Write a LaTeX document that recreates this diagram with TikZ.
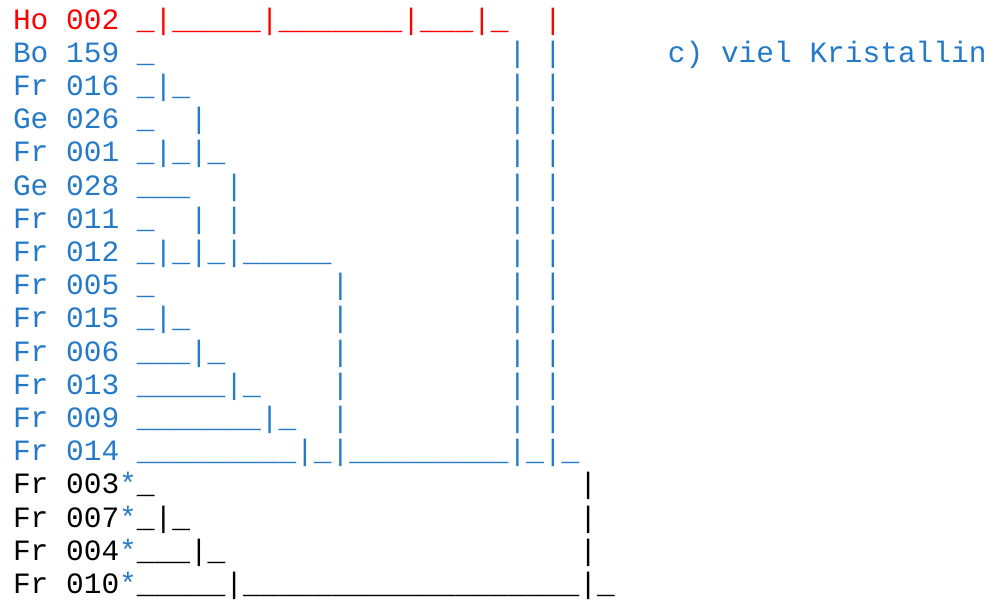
\documentclass[tikz,border=0pt]{standalone}
\usepackage{fontspec}
\setmonofont{Liberation Mono}
\usepackage{tikz}
\definecolor{kblau}{RGB}{36,122,200}
\definecolor{krot}{RGB}{255,0,0}
\newcommand{\us}[1]{\foreach \i in {1,...,#1}{\_}}
\newcommand{\ls}[1]{\hskip#1\dimexpr0.6em\relax}
\tikzset{zeile/.style={anchor=base west,inner sep=0pt,font=\ttfamily\fontsize{14.75}{17}\selectfont}}

\begin{document}
\begin{tikzpicture}[x=0.5pt,y=-0.5pt]
\useasboundingbox (0,0) rectangle (990,602);
\node[zeile,krot] (ho002) at (12.6,29) {Ho 002~\_|\us{5}|\us{7}|\us{3}|\_\ls{2}|};
\foreach \r/\n/\lab/\art in {
  1/bo159/Bo 159/\_\ls{20}|~|,
  2/fr016/Fr 016/\_|\_\ls{18}|~|,
  3/ge026/Ge 026/\_\ls{2}|\ls{17}|~|,
  4/fr001/Fr 001/\_|\_|\_\ls{16}|~|,
  5/ge028/Ge 028/\us{3}\ls{2}|\ls{15}|~|,
  6/fr011/Fr 011/\_\ls{2}|~|\ls{15}|~|,
  7/fr012/Fr 012/\_|\_|\_|\us{5}\ls{10}|~|,
  8/fr005/Fr 005/\_\ls{10}|\ls{9}|~|,
  9/fr015/Fr 015/\_|\_\ls{8}|\ls{9}|~|,
  10/fr006/Fr 006/\us{3}|\_\ls{6}|\ls{9}|~|,
  11/fr013/Fr 013/\us{5}|\_\ls{4}|\ls{9}|~|,
  12/fr009/Fr 009/\us{7}|\_\ls{2}|\ls{9}|~|,
  13/fr014/Fr 014/\us{9}|\_|\us{9}|\_|\_}{
  \node[zeile,kblau] (\n) at (12.6,29+33.2*\r) {\lab~\art};}
\foreach \r/\n/\lab/\art in {
  14/fr003/Fr 003/\_\ls{24}|,
  15/fr007/Fr 007/\_|\_\ls{22}|,
  16/fr004/Fr 004/\us{3}|\_\ls{20}|,
  17/fr010/Fr 010/\us{5}|\us{19}|\_}{
  \node[zeile] (\n) at (12.6,29+33.2*\r) {\lab{\color{kblau}*}\art};}
\node[zeile,kblau] (titel) at (667.5,62.2) {c) viel Kristallin};
\end{tikzpicture}
\end{document}
